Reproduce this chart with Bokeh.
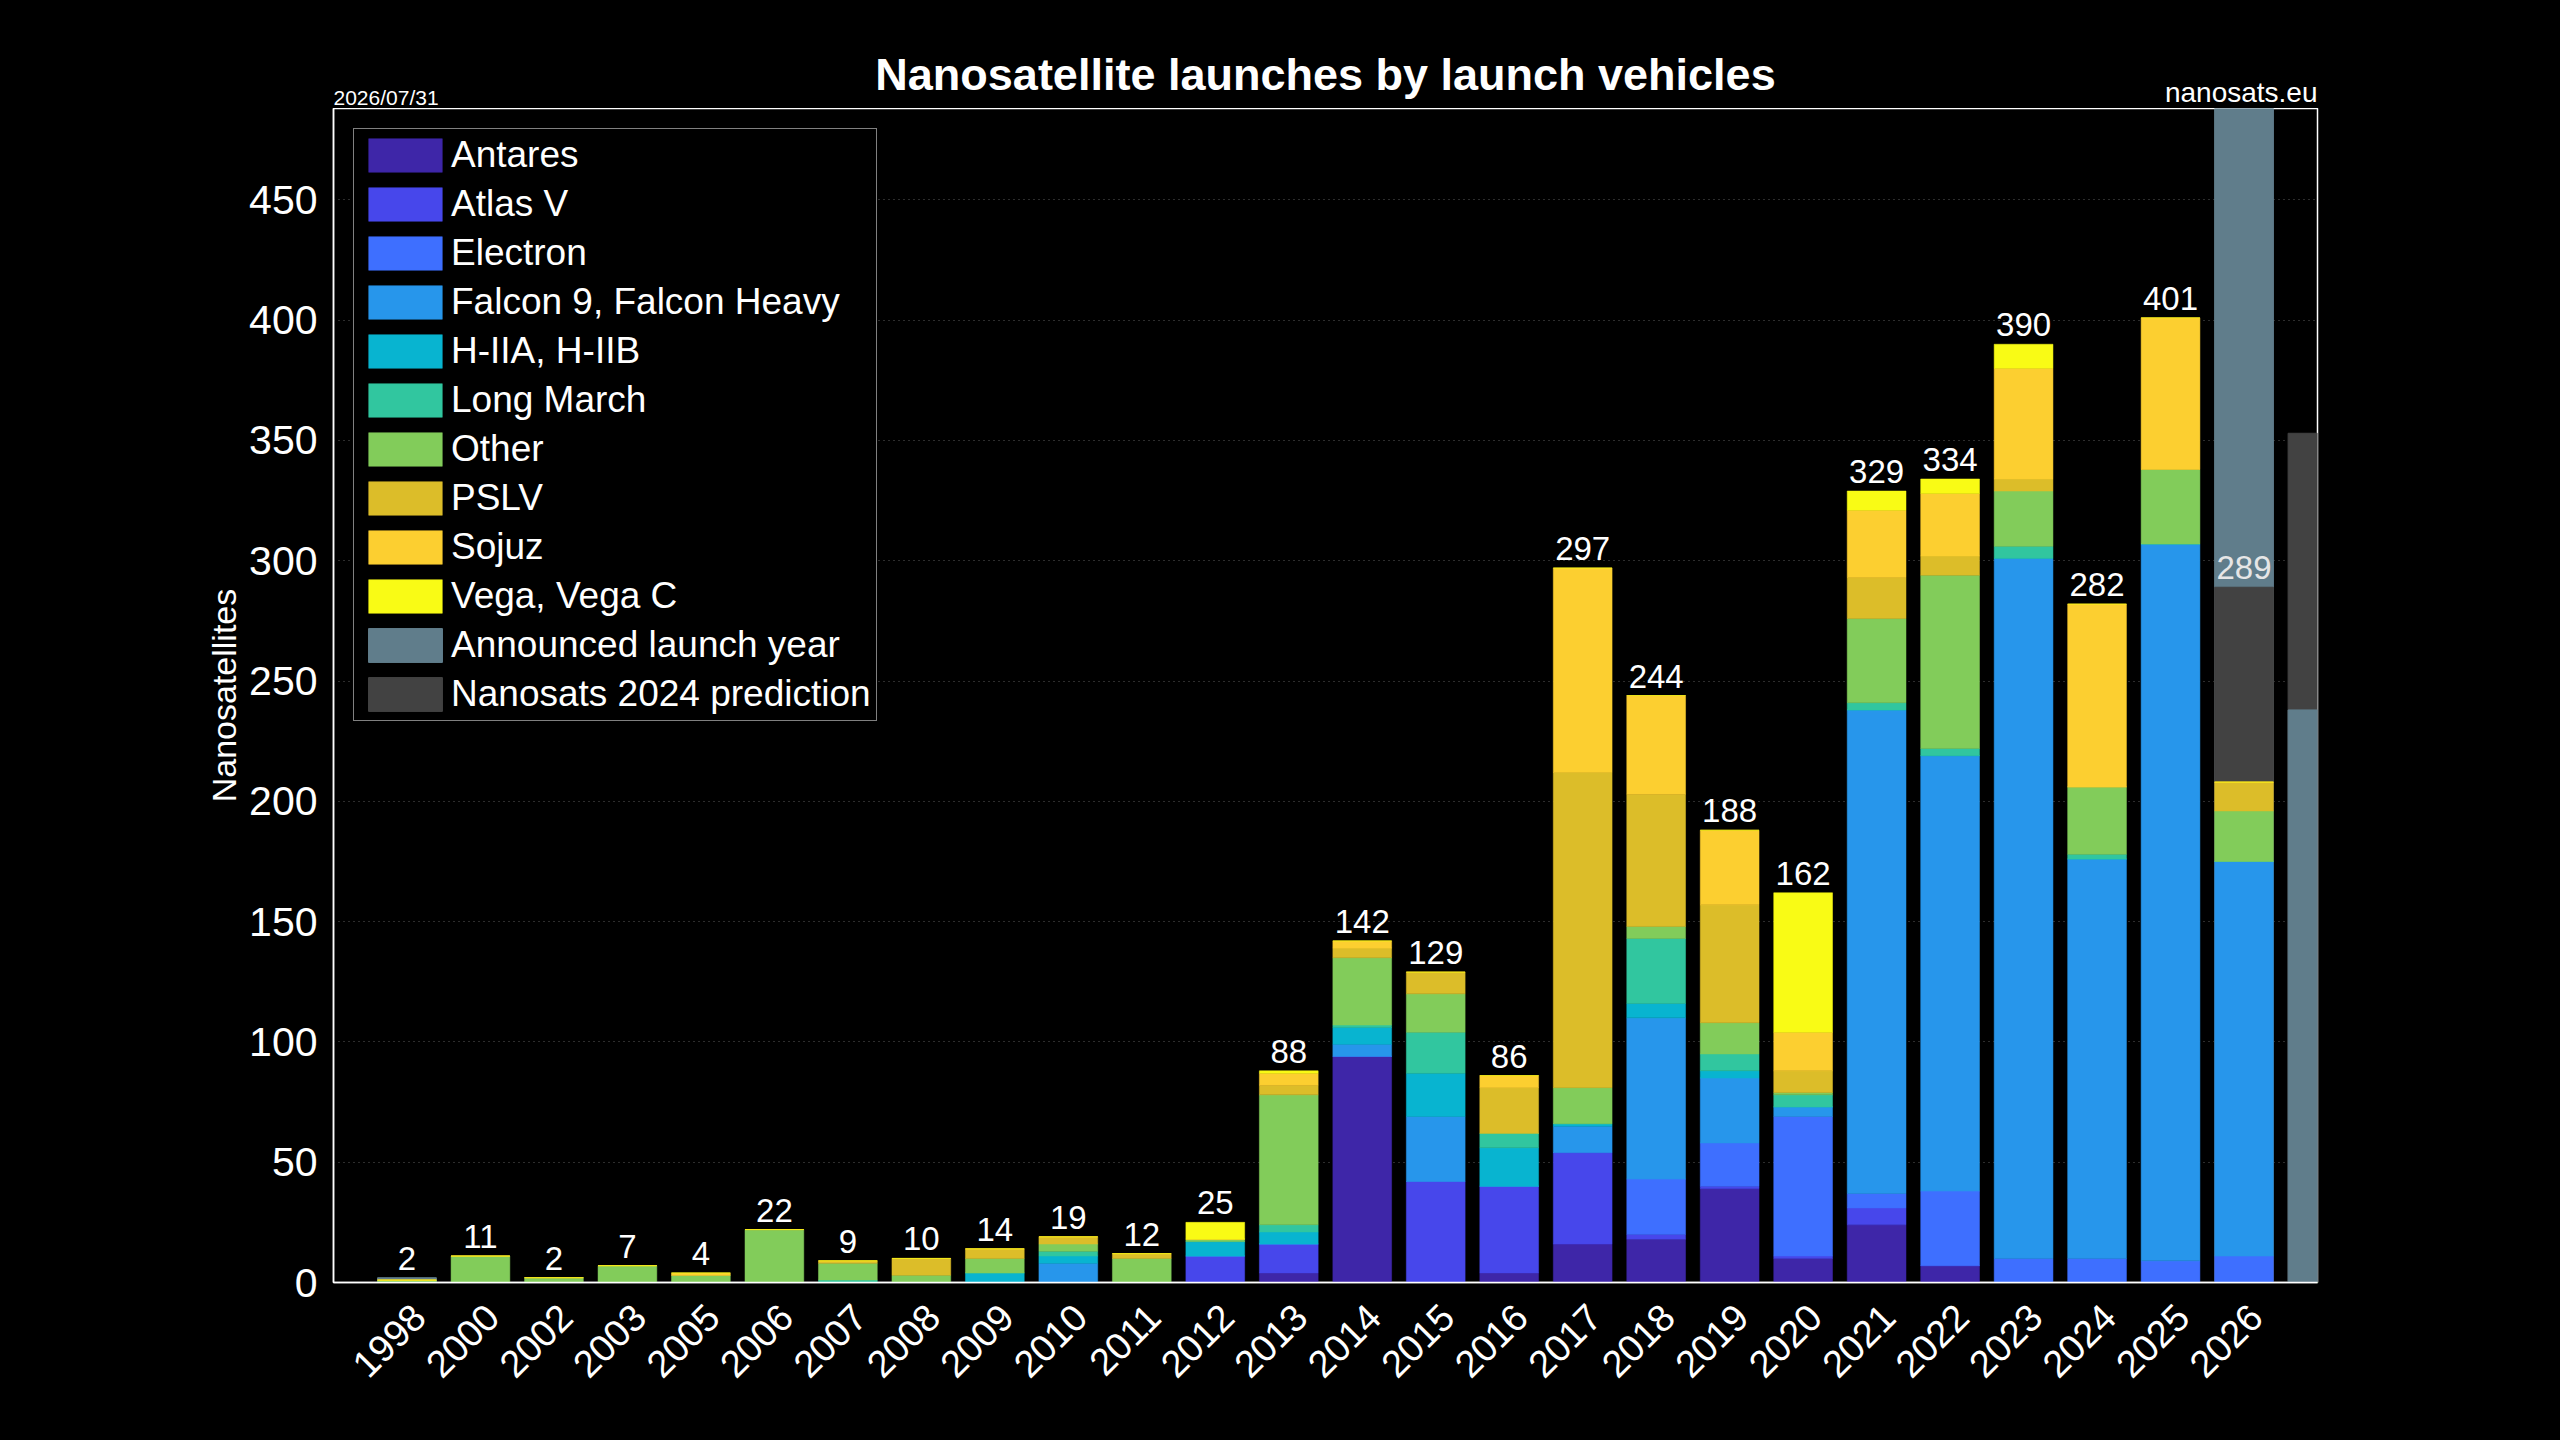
import math
import numpy as np
from bokeh.plotting import figure
from bokeh.layouts import column
from bokeh.models import (ColumnDataSource, Range1d, FixedTicker, Legend, LegendItem, LabelSet)
from bokeh.core.properties import value, field
from bokeh.embed import file_html
from bokeh.resources import INLINE

FONT = "Liberation Sans"

# ---------------- data ----------------
years = ["1998", "2000", "2002", "2003", "2005", "2006", "2007", "2008", "2009", "2010",
         "2011", "2012", "2013", "2014", "2015", "2016", "2017", "2018", "2019", "2020",
         "2021", "2022", "2023", "2024", "2025", "2026", "2027"]

antares  = [0, 0, 0, 0, 0, 0, 0, 0, 0, 0, 0, 0, 4, 94, 0, 4, 16, 18, 39, 10, 24, 7, 0, 0, 0, 0, 0]
atlas_v  = [0, 0, 0, 0, 0, 0, 0, 0, 0, 0, 0, 11, 12, 0, 42, 36, 38, 2, 1, 1, 7, 0, 0, 0, 0, 0, 0]
electron = [0, 0, 0, 0, 0, 0, 0, 0, 0, 0, 0, 0, 0, 0, 0, 0, 0, 23, 18, 58, 6, 31, 10, 10, 9, 11, 0]
falcon   = [0, 0, 0, 0, 0, 0, 0, 0, 0, 8, 0, 0, 0, 5, 27, 0, 11, 67, 27, 4, 201, 181, 291, 166, 298, 164, 0]
h2       = [0, 0, 0, 0, 0, 0, 0, 0, 4, 3, 0, 6, 5, 7, 18, 16, 1, 6, 3, 0, 0, 0, 0, 0, 0, 0, 0]
long_march = [0, 0, 0, 0, 0, 0, 1, 0, 0, 2, 0, 0, 3, 1, 17, 6, 0, 27, 7, 5, 3, 3, 5, 2, 0, 0, 0]
other    = [1, 11, 2, 7, 3, 22, 7, 3, 6, 3, 10, 1, 54, 28, 16, 0, 15, 5, 13, 1, 35, 72, 23, 28, 31, 21, 0]
pslv     = [0, 0, 0, 0, 0, 0, 1, 7, 4, 3, 2, 0, 4, 4, 9, 19, 131, 55, 49, 9, 17, 8, 5, 0, 0, 12, 0]
sojuz    = [0, 0, 0, 0, 1, 0, 0, 0, 0, 0, 0, 0, 5, 3, 0, 5, 85, 41, 31, 16, 28, 26, 46, 76, 63, 0, 0]
vega     = [0, 0, 0, 0, 0, 0, 0, 0, 0, 0, 0, 7, 1, 0, 0, 0, 0, 0, 0, 58, 8, 6, 10, 0, 0, 0, 0]

announced  = [2, 0, 0, 0, 0, 0, 0, 0, 0, 0, 0, 0, 0, 0, 0, 0, 0, 0, 0, 0, 0, 0, 0, 0, 0, 560, 238]
prediction = [0, 0, 0, 0, 0, 0, 0, 0, 0, 0, 0, 0, 0, 0, 0, 0, 0, 0, 0, 0, 0, 0, 0, 0, 0, 289, 353]

bar_labels = [2, 11, 2, 7, 4, 22, 9, 10, 14, 19, 12, 25, 88, 142, 129, 86, 297, 244, 188, 162,
              329, 334, 390, 282, 401, 289]

series_names = ["Antares", "Atlas V", "Electron", "Falcon 9, Falcon Heavy", "H-IIA, H-IIB",
                "Long March", "Other", "PSLV", "Sojuz", "Vega, Vega C"]
series_values = [antares, atlas_v, electron, falcon, h2, long_march, other, pslv, sojuz, vega]
series_colors = ["#3e26a8", "#4747eb", "#3e6fff", "#2796eb", "#08b4d0",
                 "#31c69f", "#82cc5a", "#dcbd29", "#fccf30", "#f9fb15"]
ann_color = "#607d8b"
pred_color = "#424242"

title_text = "Nanosatellite launches by launch vehicles"
date_text = "2026/07/31"
source_text = "nanosats.eu"

# ---------------- layout constants ----------------
W = 2560
HEADER_H = 108
MAIN_H = 1332
LEFT, RIGHT = 333, 243
X0, X1 = -1, 26
Y0, Y1 = 0, 488

x_range = Range1d(X0, X1)
n_years = len(years)
xs = list(range(n_years))

# ---------------- header (title, date, source) ----------------
# the header's y axis runs in pixels, measured up from the top edge of the chart frame
head = figure(width=W, height=HEADER_H, output_backend="svg", toolbar_location=None,
              x_range=x_range, y_range=Range1d(0, HEADER_H), x_axis_type=None, y_axis_type=None,
              min_border_left=LEFT, min_border_right=RIGHT, min_border_top=0, min_border_bottom=0,
              background_fill_color="black", border_fill_color="black", outline_line_color=None)
head.title.visible = False
head.xgrid.visible = False
head.ygrid.visible = False

def header_text(x, y, text, align, size, style="normal"):
    s = ColumnDataSource(dict(x=[x], y=[y], t=[text]))
    head.add_layout(LabelSet(x="x", y="y", text="t", source=s, text_align=align,
                             text_baseline="alphabetic", text_color="white",
                             text_font=value(FONT), text_font_size=size,
                             text_font_style=style))

header_text((X0 + X1) / 2, 19, title_text, "center", "45px", "bold")
header_text(X0, 4, date_text, "left", "21px")
header_text(X1, 7, source_text, "right", "28px")

# ---------------- main chart ----------------
p = figure(width=W, height=MAIN_H, output_backend="svg", toolbar_location=None,
           x_range=x_range, y_range=Range1d(Y0, Y1),
           min_border_left=LEFT, min_border_right=RIGHT, min_border_top=0, min_border_bottom=158,
           background_fill_color="black", border_fill_color="black",
           outline_line_color="white", outline_line_width=1.5)
p.title.visible = False

# announced / prediction bars (the larger one behind, the smaller one in front)
ann = np.array(announced)
pred = np.array(prediction)

def sub_source(vals, mask):
    idx = [i for i in xs if mask[i]]
    return ColumnDataSource(dict(x=idx, top=[int(vals[i]) for i in idx]))

ann_back = (ann > 0) & (ann >= pred)
ann_front = (ann > 0) & (ann < pred)
pred_back = (pred > 0) & (pred > ann)
pred_front = (pred > 0) & (pred <= ann)

r_ann_b = p.vbar(x="x", top="top", width=0.8, source=sub_source(ann, ann_back),
                 fill_color=ann_color, line_color=ann_color)
r_pred_b = p.vbar(x="x", top="top", width=0.8, source=sub_source(pred, pred_back),
                  fill_color=pred_color, line_color=pred_color)
r_ann_f = p.vbar(x="x", top="top", width=0.8, source=sub_source(ann, ann_front),
                 fill_color=ann_color, line_color=ann_color)
r_pred_f = p.vbar(x="x", top="top", width=0.8, source=sub_source(pred, pred_front),
                  fill_color=pred_color, line_color=pred_color)

# stacked vehicle bars
data = dict(x=xs)
keys = []
for k, vals in enumerate(series_values):
    key = "s%d" % k
    keys.append(key)
    data[key] = vals
src = ColumnDataSource(data)
stack_renderers = p.vbar_stack(keys, x="x", width=0.8, color=series_colors, source=src,
                               line_width=0.5)

# value labels above bars
lab_colors = ["white"] * (len(bar_labels) - 1) + ["#e6e6e6"]
lab_src = ColumnDataSource(dict(x=xs[:len(bar_labels)], y=bar_labels,
                                t=[str(v) for v in bar_labels], c=lab_colors))
labels = LabelSet(x="x", y="y", text="t", source=lab_src, text_align="center",
                  text_baseline="alphabetic", y_offset=8, text_color=field("c"),
                  text_font_size="33px", text_font=value(FONT))
p.add_layout(labels)

# legend
items = [LegendItem(label=n, renderers=[r]) for n, r in zip(series_names, stack_renderers)]
items.append(LegendItem(label="Announced launch year", renderers=[r_ann_b, r_ann_f]))
items.append(LegendItem(label="Nanosats 2024 prediction", renderers=[r_pred_b, r_pred_f]))
legend = Legend(items=items, location="top_left", margin=20, padding=5, spacing=7,
                glyph_width=92, glyph_height=42, label_height=42, label_standoff=0,
                label_text_font=FONT, label_text_font_size="37px", label_text_color="white",
                background_fill_color="black", background_fill_alpha=1.0,
                border_line_color="white", border_line_width=1.5)
p.add_layout(legend)

# axes and grid
p.xgrid.visible = False
p.ygrid.grid_line_color = "#5a5a5a"
p.ygrid.grid_line_dash = "1 4"
p.ygrid.grid_line_width = 1

p.yaxis.ticker = FixedTicker(ticks=list(range(0, 451, 50)))
p.yaxis.axis_label = "Nanosatellites"
p.yaxis.axis_label_text_font = FONT
p.yaxis.axis_label_text_font_size = "34px"
p.yaxis.axis_label_text_font_style = "normal"
p.yaxis.axis_label_text_color = "white"
p.yaxis.axis_label_standoff = 3

# tick labels sit slightly right of the bar centres, as in the reference
tick_pos = [round(i + 0.16, 2) for i in range(n_years - 1)]
p.xaxis.ticker = FixedTicker(ticks=tick_pos)
p.xaxis.major_label_overrides = {t: years[i] for i, t in enumerate(tick_pos)}
p.xaxis.major_label_orientation = math.pi / 4

for ax in (p.xaxis, p.yaxis):
    ax.axis_line_color = "white"
    ax.axis_line_width = 1.5
    ax.major_tick_line_color = None
    ax.minor_tick_line_color = None
    ax.major_tick_out = 0
    ax.major_tick_in = 0
    ax.minor_tick_out = 0
    ax.minor_tick_in = 0
    ax.major_label_text_color = "white"
    ax.major_label_text_font = FONT

p.yaxis.major_label_text_font_size = "41px"
p.yaxis.major_label_standoff = 16
p.xaxis.major_label_text_font_size = "38px"
p.xaxis.major_label_standoff = 28

page = column(head, p, spacing=0)
html = file_html(page, INLINE, title=title_text)
html = html.replace("</head>", "<style>html,body{background:#000000;}</style></head>", 1)
open("out.html", "w").write(html)
